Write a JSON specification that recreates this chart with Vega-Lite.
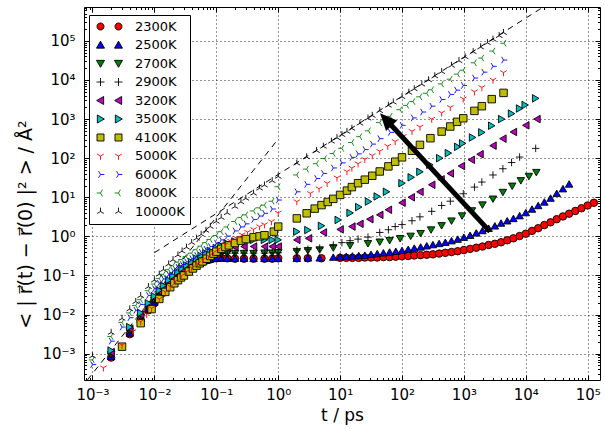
{
"$schema": "https://vega.github.io/schema/vega-lite/v6.json",
"width": 516, "height": 373,
"autosize": {"type": "none"},
"padding": {"left": 84, "top": 7, "right": 5, "bottom": 49},
"background": "white",
"config": {
  "font": "DejaVu Sans",
  "view": {"stroke": "black", "strokeWidth": 1},
  "axis": {"labelFont": "DejaVu Sans", "titleFont": "DejaVu Sans", "labelColor": "black", "titleColor": "black", "tickColor": "black", "domain": false, "titleFontWeight": "normal"},
  "legend": {"labelFont": "DejaVu Sans", "labelColor": "black"}
},
"data": {"values": [
{"T":"2300K","t":0.002,"y":0.000794},{"T":"2300K","t":0.004,"y":0.00316},{"T":"2300K","t":0.006,"y":0.00724},{"T":"2300K","t":0.008,"y":0.0129},{"T":"2300K","t":0.01,"y":0.0195},{"T":"2300K","t":0.012,"y":0.0275},{"T":"2300K","t":0.014,"y":0.0363},{"T":"2300K","t":0.017,"y":0.0501},{"T":"2300K","t":0.02,"y":0.0646},{"T":"2300K","t":0.024,"y":0.0851},{"T":"2300K","t":0.028,"y":0.105},{"T":"2300K","t":0.033,"y":0.129},{"T":"2300K","t":0.04,"y":0.158},{"T":"2300K","t":0.048,"y":0.186},{"T":"2300K","t":0.057,"y":0.214},{"T":"2300K","t":0.068,"y":0.24},{"T":"2300K","t":0.08,"y":0.257},{"T":"2300K","t":0.1,"y":0.275},{"T":"2300K","t":0.12,"y":0.282},{"T":"2300K","t":0.15,"y":0.275},{"T":"2300K","t":0.2,"y":0.269},{"T":"2300K","t":0.28,"y":0.269},{"T":"2300K","t":0.4,"y":0.269},{"T":"2300K","t":0.6,"y":0.269},{"T":"2300K","t":0.8,"y":0.269},{"T":"2300K","t":1,"y":0.275},
{"T":"2300K","t":2,"y":0.275},{"T":"2300K","t":3,"y":0.275},{"T":"2300K","t":5,"y":0.275},{"T":"2300K","t":10,"y":0.282},{"T":"2300K","t":12.6,"y":0.282},{"T":"2300K","t":15.8,"y":0.282},{"T":"2300K","t":20,"y":0.282},{"T":"2300K","t":25.1,"y":0.288},{"T":"2300K","t":31.6,"y":0.288},{"T":"2300K","t":39.8,"y":0.288},{"T":"2300K","t":50.1,"y":0.295},{"T":"2300K","t":63.1,"y":0.295},{"T":"2300K","t":79.4,"y":0.302},{"T":"2300K","t":100,"y":0.309},{"T":"2300K","t":126,"y":0.316},{"T":"2300K","t":158,"y":0.324},{"T":"2300K","t":200,"y":0.331},{"T":"2300K","t":251,"y":0.339},{"T":"2300K","t":316,"y":0.347},{"T":"2300K","t":398,"y":0.363},{"T":"2300K","t":501,"y":0.38},{"T":"2300K","t":631,"y":0.398},{"T":"2300K","t":794,"y":0.417},{"T":"2300K","t":1000,"y":0.447},{"T":"2300K","t":1259,"y":0.479},{"T":"2300K","t":1585,"y":0.513},{"T":"2300K","t":1995,"y":0.55},{"T":"2300K","t":2512,"y":0.603},{"T":"2300K","t":3162,"y":0.646},{"T":"2300K","t":3981,"y":0.708},{"T":"2300K","t":5012,"y":0.794},{"T":"2300K","t":6310,"y":0.891},{"T":"2300K","t":7943,"y":1.02},{"T":"2300K","t":10000,"y":1.17},{"T":"2300K","t":12590,"y":1.38},{"T":"2300K","t":15850,"y":1.62},{"T":"2300K","t":19950,"y":1.95},{"T":"2300K","t":25120,"y":2.29},{"T":"2300K","t":31620,"y":2.75},{"T":"2300K","t":39810,"y":3.24},{"T":"2300K","t":50120,"y":3.8},{"T":"2300K","t":63100,"y":4.47},{"T":"2300K","t":79430,"y":5.25},{"T":"2300K","t":100000,"y":6.17},{"T":"2300K","t":125900,"y":7.24},
{"T":"2500K","t":0.002,"y":0.000851},{"T":"2500K","t":0.004,"y":0.00339},{"T":"2500K","t":0.006,"y":0.00776},{"T":"2500K","t":0.008,"y":0.0138},{"T":"2500K","t":0.01,"y":0.0209},{"T":"2500K","t":0.012,"y":0.0295},{"T":"2500K","t":0.014,"y":0.0389},{"T":"2500K","t":0.017,"y":0.0537},{"T":"2500K","t":0.02,"y":0.0692},{"T":"2500K","t":0.024,"y":0.0891},{"T":"2500K","t":0.028,"y":0.11},{"T":"2500K","t":0.033,"y":0.135},{"T":"2500K","t":0.04,"y":0.162},{"T":"2500K","t":0.048,"y":0.191},{"T":"2500K","t":0.057,"y":0.219},{"T":"2500K","t":0.068,"y":0.245},{"T":"2500K","t":0.08,"y":0.263},{"T":"2500K","t":0.1,"y":0.275},{"T":"2500K","t":0.12,"y":0.282},{"T":"2500K","t":0.15,"y":0.275},{"T":"2500K","t":0.2,"y":0.275},{"T":"2500K","t":0.28,"y":0.275},{"T":"2500K","t":0.4,"y":0.275},{"T":"2500K","t":0.6,"y":0.275},{"T":"2500K","t":0.8,"y":0.275},{"T":"2500K","t":1,"y":0.275},
{"T":"2500K","t":2,"y":0.275},{"T":"2500K","t":3.02,"y":0.282},{"T":"2500K","t":4.68,"y":0.282},{"T":"2500K","t":7.76,"y":0.295},{"T":"2500K","t":10,"y":0.302},{"T":"2500K","t":12.6,"y":0.309},{"T":"2500K","t":15.8,"y":0.316},{"T":"2500K","t":20,"y":0.324},{"T":"2500K","t":25.1,"y":0.331},{"T":"2500K","t":31.6,"y":0.347},{"T":"2500K","t":39.8,"y":0.363},{"T":"2500K","t":50.1,"y":0.38},{"T":"2500K","t":63.1,"y":0.398},{"T":"2500K","t":79.4,"y":0.417},{"T":"2500K","t":100,"y":0.437},{"T":"2500K","t":126,"y":0.468},{"T":"2500K","t":158,"y":0.501},{"T":"2500K","t":200,"y":0.537},{"T":"2500K","t":251,"y":0.575},{"T":"2500K","t":316,"y":0.617},{"T":"2500K","t":398,"y":0.661},{"T":"2500K","t":501,"y":0.708},{"T":"2500K","t":631,"y":0.776},{"T":"2500K","t":794,"y":0.851},{"T":"2500K","t":1000,"y":0.955},{"T":"2500K","t":1259,"y":1.07},{"T":"2500K","t":1585,"y":1.23},{"T":"2500K","t":1995,"y":1.41},{"T":"2500K","t":2512,"y":1.62},{"T":"2500K","t":3162,"y":1.86},{"T":"2500K","t":3981,"y":2.19},{"T":"2500K","t":5012,"y":2.51},{"T":"2500K","t":6310,"y":2.88},{"T":"2500K","t":7943,"y":3.39},{"T":"2500K","t":10000,"y":4.07},{"T":"2500K","t":12590,"y":5.01},{"T":"2500K","t":15850,"y":6.17},{"T":"2500K","t":19950,"y":7.59},{"T":"2500K","t":25120,"y":9.55},{"T":"2500K","t":31620,"y":12.6},{"T":"2500K","t":39810,"y":16.6},{"T":"2500K","t":50120,"y":21.9},
{"T":"2700K","t":0.002,"y":0.000933},{"T":"2700K","t":0.004,"y":0.00372},{"T":"2700K","t":0.006,"y":0.00851},{"T":"2700K","t":0.008,"y":0.0151},{"T":"2700K","t":0.01,"y":0.0229},{"T":"2700K","t":0.012,"y":0.0324},{"T":"2700K","t":0.014,"y":0.0427},{"T":"2700K","t":0.017,"y":0.0589},{"T":"2700K","t":0.02,"y":0.0759},{"T":"2700K","t":0.024,"y":0.0977},{"T":"2700K","t":0.028,"y":0.12},{"T":"2700K","t":0.033,"y":0.148},{"T":"2700K","t":0.04,"y":0.182},{"T":"2700K","t":0.048,"y":0.219},{"T":"2700K","t":0.057,"y":0.257},{"T":"2700K","t":0.068,"y":0.295},{"T":"2700K","t":0.08,"y":0.324},{"T":"2700K","t":0.1,"y":0.347},{"T":"2700K","t":0.12,"y":0.355},{"T":"2700K","t":0.15,"y":0.363},{"T":"2700K","t":0.2,"y":0.363},{"T":"2700K","t":0.28,"y":0.363},{"T":"2700K","t":0.4,"y":0.363},{"T":"2700K","t":0.6,"y":0.372},{"T":"2700K","t":0.8,"y":0.372},{"T":"2700K","t":1,"y":0.38},
{"T":"2700K","t":2,"y":0.407},{"T":"2700K","t":3.02,"y":0.427},{"T":"2700K","t":4.68,"y":0.447},{"T":"2700K","t":7.76,"y":0.501},{"T":"2700K","t":14.5,"y":0.575},{"T":"2700K","t":28.2,"y":0.646},{"T":"2700K","t":43.7,"y":0.708},{"T":"2700K","t":63.1,"y":0.776},{"T":"2700K","t":93.3,"y":0.871},{"T":"2700K","t":138,"y":1.0},{"T":"2700K","t":200,"y":1.17},{"T":"2700K","t":295,"y":1.45},{"T":"2700K","t":437,"y":1.86},{"T":"2700K","t":631,"y":2.45},{"T":"2700K","t":933,"y":3.31},{"T":"2700K","t":1349,"y":4.47},{"T":"2700K","t":1995,"y":6.31},{"T":"2700K","t":2951,"y":8.91},{"T":"2700K","t":4266,"y":13.2},{"T":"2700K","t":6026,"y":19.1},{"T":"2700K","t":8318,"y":26.3},{"T":"2700K","t":11220,"y":33.9},{"T":"2700K","t":14790,"y":42.7},
{"T":"2900K","t":0.002,"y":0.001},{"T":"2900K","t":0.004,"y":0.00398},{"T":"2900K","t":0.006,"y":0.00912},{"T":"2900K","t":0.008,"y":0.0162},{"T":"2900K","t":0.01,"y":0.0245},{"T":"2900K","t":0.012,"y":0.0347},{"T":"2900K","t":0.014,"y":0.0457},{"T":"2900K","t":0.017,"y":0.0631},{"T":"2900K","t":0.02,"y":0.0813},{"T":"2900K","t":0.024,"y":0.105},{"T":"2900K","t":0.028,"y":0.129},{"T":"2900K","t":0.033,"y":0.158},{"T":"2900K","t":0.04,"y":0.191},{"T":"2900K","t":0.048,"y":0.224},{"T":"2900K","t":0.057,"y":0.263},{"T":"2900K","t":0.068,"y":0.302},{"T":"2900K","t":0.08,"y":0.331},{"T":"2900K","t":0.1,"y":0.355},{"T":"2900K","t":0.12,"y":0.363},{"T":"2900K","t":0.15,"y":0.372},{"T":"2900K","t":0.2,"y":0.372},{"T":"2900K","t":0.28,"y":0.372},{"T":"2900K","t":0.4,"y":0.372},{"T":"2900K","t":0.6,"y":0.372},{"T":"2900K","t":0.8,"y":0.38},{"T":"2900K","t":1,"y":0.38},
{"T":"2900K","t":2,"y":0.447},{"T":"2900K","t":3.02,"y":0.468},{"T":"2900K","t":4.68,"y":0.501},{"T":"2900K","t":7.76,"y":0.603},{"T":"2900K","t":10.7,"y":0.692},{"T":"2900K","t":14.5,"y":0.776},{"T":"2900K","t":19.5,"y":0.851},{"T":"2900K","t":28.2,"y":0.955},{"T":"2900K","t":43.7,"y":1.26},{"T":"2900K","t":60.3,"y":1.48},{"T":"2900K","t":77.6,"y":1.78},{"T":"2900K","t":100,"y":2.0},{"T":"2900K","t":145,"y":2.51},{"T":"2900K","t":195,"y":3.16},{"T":"2900K","t":302,"y":4.37},{"T":"2900K","t":437,"y":6.17},{"T":"2900K","t":603,"y":7.94},{"T":"2900K","t":977,"y":12.3},{"T":"2900K","t":1479,"y":18.2},{"T":"2900K","t":1950,"y":24.5},{"T":"2900K","t":2951,"y":37.2},{"T":"2900K","t":4266,"y":53.7},{"T":"2900K","t":5888,"y":77.6},{"T":"2900K","t":7943,"y":107},{"T":"2900K","t":14450,"y":178},
{"T":"3200K","t":0.002,"y":0.0011},{"T":"3200K","t":0.004,"y":0.00437},{"T":"3200K","t":0.006,"y":0.01},{"T":"3200K","t":0.008,"y":0.0178},{"T":"3200K","t":0.01,"y":0.0269},{"T":"3200K","t":0.012,"y":0.038},{"T":"3200K","t":0.014,"y":0.0501},{"T":"3200K","t":0.017,"y":0.0692},{"T":"3200K","t":0.02,"y":0.0891},{"T":"3200K","t":0.024,"y":0.115},{"T":"3200K","t":0.028,"y":0.141},{"T":"3200K","t":0.033,"y":0.17},{"T":"3200K","t":0.04,"y":0.204},{"T":"3200K","t":0.048,"y":0.245},{"T":"3200K","t":0.057,"y":0.288},{"T":"3200K","t":0.068,"y":0.331},{"T":"3200K","t":0.08,"y":0.372},{"T":"3200K","t":0.1,"y":0.417},{"T":"3200K","t":0.12,"y":0.457},{"T":"3200K","t":0.15,"y":0.501},{"T":"3200K","t":0.2,"y":0.537},{"T":"3200K","t":0.28,"y":0.55},{"T":"3200K","t":0.4,"y":0.55},{"T":"3200K","t":0.6,"y":0.55},{"T":"3200K","t":0.8,"y":0.55},{"T":"3200K","t":1,"y":0.55},
{"T":"3200K","t":2,"y":0.813},{"T":"3200K","t":3.09,"y":0.891},{"T":"3200K","t":5.37,"y":1.26},{"T":"3200K","t":10,"y":1.51},{"T":"3200K","t":15.5,"y":1.78},{"T":"3200K","t":20.9,"y":2.09},{"T":"3200K","t":30.2,"y":2.75},{"T":"3200K","t":43.7,"y":3.55},{"T":"3200K","t":60.3,"y":4.79},{"T":"3200K","t":100,"y":7.24},{"T":"3200K","t":141,"y":10},{"T":"3200K","t":195,"y":13.8},{"T":"3200K","t":302,"y":20.9},{"T":"3200K","t":427,"y":28.8},{"T":"3200K","t":603,"y":40.7},{"T":"3200K","t":912,"y":63.1},{"T":"3200K","t":1318,"y":91.2},{"T":"3200K","t":1820,"y":126},{"T":"3200K","t":2951,"y":209},{"T":"3200K","t":4266,"y":316},{"T":"3200K","t":6310,"y":468},{"T":"3200K","t":10000,"y":692},{"T":"3200K","t":15140,"y":1000},
{"T":"3500K","t":0.002,"y":0.0012},{"T":"3500K","t":0.004,"y":0.00479},{"T":"3500K","t":0.006,"y":0.011},{"T":"3500K","t":0.008,"y":0.0195},{"T":"3500K","t":0.01,"y":0.0295},{"T":"3500K","t":0.012,"y":0.0417},{"T":"3500K","t":0.014,"y":0.055},{"T":"3500K","t":0.017,"y":0.0759},{"T":"3500K","t":0.02,"y":0.0977},{"T":"3500K","t":0.024,"y":0.123},{"T":"3500K","t":0.028,"y":0.151},{"T":"3500K","t":0.033,"y":0.182},{"T":"3500K","t":0.04,"y":0.219},{"T":"3500K","t":0.048,"y":0.269},{"T":"3500K","t":0.057,"y":0.316},{"T":"3500K","t":0.068,"y":0.372},{"T":"3500K","t":0.08,"y":0.427},{"T":"3500K","t":0.1,"y":0.501},{"T":"3500K","t":0.12,"y":0.575},{"T":"3500K","t":0.15,"y":0.661},{"T":"3500K","t":0.2,"y":0.741},{"T":"3500K","t":0.28,"y":0.794},{"T":"3500K","t":0.4,"y":0.813},{"T":"3500K","t":0.6,"y":0.813},{"T":"3500K","t":0.8,"y":0.813},{"T":"3500K","t":1,"y":0.813},
{"T":"3500K","t":2,"y":1.32},{"T":"3500K","t":3.02,"y":1.45},{"T":"3500K","t":5.01,"y":1.86},{"T":"3500K","t":9.33,"y":2.63},{"T":"3500K","t":14.5,"y":3.98},{"T":"3500K","t":20,"y":5.62},{"T":"3500K","t":28.8,"y":7.76},{"T":"3500K","t":39.8,"y":10.5},{"T":"3500K","t":56.2,"y":13.8},{"T":"3500K","t":100,"y":22.9},{"T":"3500K","t":141,"y":32.4},{"T":"3500K","t":195,"y":44.7},{"T":"3500K","t":282,"y":67.6},{"T":"3500K","t":407,"y":100},{"T":"3500K","t":562,"y":135},{"T":"3500K","t":794,"y":195},{"T":"3500K","t":955,"y":240},{"T":"3500K","t":1380,"y":339},{"T":"3500K","t":1950,"y":457},{"T":"3500K","t":2818,"y":676},{"T":"3500K","t":4074,"y":1000},{"T":"3500K","t":5888,"y":1380},{"T":"3500K","t":7943,"y":1862},{"T":"3500K","t":9772,"y":2291},{"T":"3500K","t":14450,"y":3388},
{"T":"4100K","t":0.003,"y":0.00151},{"T":"4100K","t":0.006,"y":0.00603},{"T":"4100K","t":0.009,"y":0.0138},{"T":"4100K","t":0.012,"y":0.0251},{"T":"4100K","t":0.015,"y":0.038},{"T":"4100K","t":0.018,"y":0.0501},{"T":"4100K","t":0.021,"y":0.0631},{"T":"4100K","t":0.024,"y":0.0759},{"T":"4100K","t":0.027,"y":0.0891},{"T":"4100K","t":0.03,"y":0.1},{"T":"4100K","t":0.036,"y":0.126},{"T":"4100K","t":0.042,"y":0.151},{"T":"4100K","t":0.048,"y":0.178},{"T":"4100K","t":0.054,"y":0.204},{"T":"4100K","t":0.06,"y":0.229},{"T":"4100K","t":0.07,"y":0.269},{"T":"4100K","t":0.08,"y":0.316},{"T":"4100K","t":0.09,"y":0.363},{"T":"4100K","t":0.1,"y":0.407},{"T":"4100K","t":0.12,"y":0.479},{"T":"4100K","t":0.14,"y":0.537},{"T":"4100K","t":0.16,"y":0.589},{"T":"4100K","t":0.2,"y":0.676},{"T":"4100K","t":0.25,"y":0.776},{"T":"4100K","t":0.3,"y":0.851},{"T":"4100K","t":0.4,"y":0.955},{"T":"4100K","t":0.5,"y":1.0},{"T":"4100K","t":0.6,"y":1.07},{"T":"4100K","t":0.85,"y":1.32},{"T":"4100K","t":1,"y":1.78},
{"T":"4100K","t":2,"y":2.88},{"T":"4100K","t":2.88,"y":3.89},{"T":"4100K","t":3.89,"y":5.13},{"T":"4100K","t":5.01,"y":6.31},{"T":"4100K","t":6.31,"y":7.59},{"T":"4100K","t":7.76,"y":9.12},{"T":"4100K","t":10,"y":11.5},{"T":"4100K","t":12.9,"y":14.8},{"T":"4100K","t":15.5,"y":18.2},{"T":"4100K","t":19.5,"y":22.9},{"T":"4100K","t":25.1,"y":28.2},{"T":"4100K","t":33.1,"y":35.5},{"T":"4100K","t":43.7,"y":45.7},{"T":"4100K","t":60.3,"y":61.7},{"T":"4100K","t":77.6,"y":81.3},{"T":"4100K","t":100,"y":105},{"T":"4100K","t":145,"y":155},{"T":"4100K","t":195,"y":219},{"T":"4100K","t":288,"y":324},{"T":"4100K","t":437,"y":479},{"T":"4100K","t":603,"y":646},{"T":"4100K","t":776,"y":851},{"T":"4100K","t":977,"y":1047},{"T":"4100K","t":1479,"y":1622},{"T":"4100K","t":1950,"y":2138},{"T":"4100K","t":2818,"y":3236},{"T":"4100K","t":4365,"y":4677},
{"T":"5000K","t":0.0015,"y":0.000437},{"T":"5000K","t":0.003,"y":0.00166},{"T":"5000K","t":0.0045,"y":0.00372},{"T":"5000K","t":0.006,"y":0.00661},{"T":"5000K","t":0.0075,"y":0.0102},{"T":"5000K","t":0.009,"y":0.0145},{"T":"5000K","t":0.012,"y":0.0251},{"T":"5000K","t":0.015,"y":0.038},{"T":"5000K","t":0.018,"y":0.0525},{"T":"5000K","t":0.022,"y":0.0724},{"T":"5000K","t":0.027,"y":0.0977},{"T":"5000K","t":0.033,"y":0.126},{"T":"5000K","t":0.04,"y":0.158},{"T":"5000K","t":0.05,"y":0.204},{"T":"5000K","t":0.06,"y":0.251},{"T":"5000K","t":0.075,"y":0.316},{"T":"5000K","t":0.09,"y":0.389},{"T":"5000K","t":0.11,"y":0.479},{"T":"5000K","t":0.14,"y":0.617},{"T":"5000K","t":0.17,"y":0.759},{"T":"5000K","t":0.21,"y":0.912},{"T":"5000K","t":0.26,"y":1.1},{"T":"5000K","t":0.32,"y":1.29},{"T":"5000K","t":0.4,"y":1.51},{"T":"5000K","t":0.5,"y":1.78},{"T":"5000K","t":0.6,"y":2.0},{"T":"5000K","t":0.78,"y":2.4},{"T":"5000K","t":1,"y":3.98},
{"T":"5000K","t":2,"y":7.76},{"T":"5000K","t":3.31,"y":12.6},{"T":"5000K","t":4.57,"y":16.6},{"T":"5000K","t":6.17,"y":22.9},{"T":"5000K","t":8.91,"y":31.6},{"T":"5000K","t":12.9,"y":45.7},{"T":"5000K","t":15.5,"y":56.2},{"T":"5000K","t":19.5,"y":72.4},{"T":"5000K","t":25.1,"y":93.3},{"T":"5000K","t":33.1,"y":117},{"T":"5000K","t":43.7,"y":151},{"T":"5000K","t":58.9,"y":204},{"T":"5000K","t":77.6,"y":269},{"T":"5000K","t":105,"y":363},{"T":"5000K","t":145,"y":490},{"T":"5000K","t":195,"y":631},{"T":"5000K","t":302,"y":1000},{"T":"5000K","t":437,"y":1445},{"T":"5000K","t":603,"y":1995},{"T":"5000K","t":977,"y":3311},{"T":"5000K","t":1479,"y":5012},{"T":"5000K","t":1950,"y":6457},{"T":"5000K","t":2951,"y":10000},{"T":"5000K","t":4365,"y":15490},
{"T":"6000K","t":0.001,"y":0.000525},{"T":"6000K","t":0.002,"y":0.00209},{"T":"6000K","t":0.003,"y":0.00479},{"T":"6000K","t":0.004,"y":0.00832},{"T":"6000K","t":0.005,"y":0.0129},{"T":"6000K","t":0.006,"y":0.0182},{"T":"6000K","t":0.008,"y":0.0309},{"T":"6000K","t":0.01,"y":0.0457},{"T":"6000K","t":0.012,"y":0.0631},{"T":"6000K","t":0.014,"y":0.0813},{"T":"6000K","t":0.017,"y":0.107},{"T":"6000K","t":0.02,"y":0.132},{"T":"6000K","t":0.024,"y":0.162},{"T":"6000K","t":0.028,"y":0.191},{"T":"6000K","t":0.033,"y":0.224},{"T":"6000K","t":0.04,"y":0.269},{"T":"6000K","t":0.048,"y":0.324},{"T":"6000K","t":0.057,"y":0.389},{"T":"6000K","t":0.068,"y":0.468},{"T":"6000K","t":0.08,"y":0.55},{"T":"6000K","t":0.1,"y":0.676},{"T":"6000K","t":0.12,"y":0.813},{"T":"6000K","t":0.15,"y":1.02},{"T":"6000K","t":0.2,"y":1.38},{"T":"6000K","t":0.25,"y":1.74},{"T":"6000K","t":0.3,"y":2.09},{"T":"6000K","t":0.4,"y":2.69},{"T":"6000K","t":0.5,"y":3.31},{"T":"6000K","t":0.6,"y":3.89},{"T":"6000K","t":0.8,"y":5.01},{"T":"6000K","t":1,"y":8.51},
{"T":"6000K","t":2,"y":13.8},{"T":"6000K","t":2.88,"y":21.4},{"T":"6000K","t":4.17,"y":30.2},{"T":"6000K","t":5.37,"y":40.7},{"T":"6000K","t":7.76,"y":56.2},{"T":"6000K","t":10.7,"y":75.9},{"T":"6000K","t":15.5,"y":105},{"T":"6000K","t":19.5,"y":129},{"T":"6000K","t":25.1,"y":166},{"T":"6000K","t":33.1,"y":229},{"T":"6000K","t":43.7,"y":316},{"T":"6000K","t":64.6,"y":457},{"T":"6000K","t":100,"y":692},{"T":"6000K","t":151,"y":1072},{"T":"6000K","t":214,"y":1514},{"T":"6000K","t":302,"y":2138},{"T":"6000K","t":437,"y":3162},{"T":"6000K","t":603,"y":4266},{"T":"6000K","t":759,"y":5495},{"T":"6000K","t":977,"y":7244},{"T":"6000K","t":1479,"y":11220},{"T":"6000K","t":2089,"y":15850},{"T":"6000K","t":2951,"y":22390},{"T":"6000K","t":4365,"y":32360},
{"T":"8000K","t":0.001,"y":0.000692},{"T":"8000K","t":0.002,"y":0.00275},{"T":"8000K","t":0.003,"y":0.00631},{"T":"8000K","t":0.004,"y":0.011},{"T":"8000K","t":0.005,"y":0.017},{"T":"8000K","t":0.006,"y":0.024},{"T":"8000K","t":0.008,"y":0.0407},{"T":"8000K","t":0.01,"y":0.0603},{"T":"8000K","t":0.012,"y":0.0832},{"T":"8000K","t":0.014,"y":0.107},{"T":"8000K","t":0.017,"y":0.141},{"T":"8000K","t":0.02,"y":0.178},{"T":"8000K","t":0.024,"y":0.219},{"T":"8000K","t":0.028,"y":0.257},{"T":"8000K","t":0.033,"y":0.302},{"T":"8000K","t":0.04,"y":0.372},{"T":"8000K","t":0.048,"y":0.457},{"T":"8000K","t":0.057,"y":0.562},{"T":"8000K","t":0.068,"y":0.692},{"T":"8000K","t":0.08,"y":0.832},{"T":"8000K","t":0.1,"y":1.05},{"T":"8000K","t":0.12,"y":1.32},{"T":"8000K","t":0.15,"y":1.74},{"T":"8000K","t":0.2,"y":2.4},{"T":"8000K","t":0.25,"y":3.02},{"T":"8000K","t":0.3,"y":3.55},{"T":"8000K","t":0.4,"y":4.47},{"T":"8000K","t":0.5,"y":5.37},{"T":"8000K","t":0.6,"y":6.31},{"T":"8000K","t":0.8,"y":7.94},{"T":"8000K","t":1,"y":18.6},
{"T":"8000K","t":2,"y":37.2},{"T":"8000K","t":2.88,"y":52.5},{"T":"8000K","t":4.17,"y":72.4},{"T":"8000K","t":5.62,"y":97.7},{"T":"8000K","t":7.76,"y":132},{"T":"8000K","t":10.7,"y":178},{"T":"8000K","t":15.5,"y":251},{"T":"8000K","t":20.9,"y":355},{"T":"8000K","t":28.8,"y":501},{"T":"8000K","t":43.7,"y":813},{"T":"8000K","t":64.6,"y":1175},{"T":"8000K","t":93.3,"y":1738},{"T":"8000K","t":120,"y":2239},{"T":"8000K","t":151,"y":2818},{"T":"8000K","t":195,"y":3715},{"T":"8000K","t":251,"y":4571},{"T":"8000K","t":302,"y":5623},{"T":"8000K","t":437,"y":7943},{"T":"8000K","t":603,"y":10470},{"T":"8000K","t":794,"y":14130},{"T":"8000K","t":977,"y":17780},{"T":"8000K","t":1479,"y":27540},{"T":"8000K","t":1950,"y":36310},{"T":"8000K","t":2951,"y":54950},{"T":"8000K","t":4467,"y":87100},
{"T":"10000K","t":0.001,"y":0.000871},{"T":"10000K","t":0.002,"y":0.00347},{"T":"10000K","t":0.003,"y":0.00794},{"T":"10000K","t":0.004,"y":0.0138},{"T":"10000K","t":0.005,"y":0.0214},{"T":"10000K","t":0.006,"y":0.0302},{"T":"10000K","t":0.008,"y":0.0513},{"T":"10000K","t":0.01,"y":0.0759},{"T":"10000K","t":0.012,"y":0.107},{"T":"10000K","t":0.014,"y":0.141},{"T":"10000K","t":0.017,"y":0.195},{"T":"10000K","t":0.02,"y":0.251},{"T":"10000K","t":0.024,"y":0.331},{"T":"10000K","t":0.028,"y":0.417},{"T":"10000K","t":0.033,"y":0.525},{"T":"10000K","t":0.04,"y":0.692},{"T":"10000K","t":0.048,"y":0.891},{"T":"10000K","t":0.057,"y":1.12},{"T":"10000K","t":0.068,"y":1.41},{"T":"10000K","t":0.08,"y":1.78},{"T":"10000K","t":0.1,"y":2.4},{"T":"10000K","t":0.12,"y":3.02},{"T":"10000K","t":0.15,"y":3.98},{"T":"10000K","t":0.2,"y":5.75},{"T":"10000K","t":0.25,"y":7.59},{"T":"10000K","t":0.3,"y":9.33},{"T":"10000K","t":0.4,"y":12.6},{"T":"10000K","t":0.5,"y":17.0},{"T":"10000K","t":0.6,"y":20.4},{"T":"10000K","t":0.8,"y":26.3},{"T":"10000K","t":1,"y":33.9},
{"T":"10000K","t":2,"y":74.1},{"T":"10000K","t":2.88,"y":107},{"T":"10000K","t":4.17,"y":155},{"T":"10000K","t":5.37,"y":200},{"T":"10000K","t":7.24,"y":269},{"T":"10000K","t":8.91,"y":331},{"T":"10000K","t":10.7,"y":398},{"T":"10000K","t":12.9,"y":479},{"T":"10000K","t":15.5,"y":575},{"T":"10000K","t":20.9,"y":776},{"T":"10000K","t":28.2,"y":1047},{"T":"10000K","t":33.1,"y":1230},{"T":"10000K","t":43.7,"y":1622},{"T":"10000K","t":60.3,"y":2239},{"T":"10000K","t":72.4,"y":2692},{"T":"10000K","t":100,"y":3715},{"T":"10000K","t":129,"y":4786},{"T":"10000K","t":158,"y":5888},{"T":"10000K","t":209,"y":7762},{"T":"10000K","t":269,"y":10000},{"T":"10000K","t":339,"y":12590},{"T":"10000K","t":437,"y":16220},{"T":"10000K","t":631,"y":23440},{"T":"10000K","t":832,"y":30900},{"T":"10000K","t":1047,"y":38900},{"T":"10000K","t":1413,"y":52480},{"T":"10000K","t":1862,"y":69180},{"T":"10000K","t":2399,"y":89130},{"T":"10000K","t":2951,"y":109600},{"T":"10000K","t":3715,"y":134900},{"T":"10000K","t":4365,"y":162200}
]},
"layer": [
{
  "data": {"values": [
    {"line": "ballistic", "t": 0.00083, "y": 0.000213},
    {"line": "ballistic", "t": 1, "y": 309},
    {"line": "diffusive", "t": 0.01, "y": 0.383},
    {"line": "diffusive", "t": 18500, "y": 708550}
  ]},
  "mark": {"type": "line", "color": "black", "strokeWidth": 1, "strokeDash": [6, 5], "clip": true},
  "encoding": {
    "x": {"field": "t", "type": "quantitative", "scale": {"type": "log", "domain": [0.000729, 158000], "nice": false},
      "axis": {"orient": "top", "labels": false, "grid": false, "domain": false, "title": null,
        "values": [0.0008,0.0009,0.001,0.002,0.003,0.004,0.005,0.006,0.007,0.008,0.009,0.01,0.02,0.03,0.04,0.05,0.06,0.07,0.08,0.09,0.1,0.2,0.3,0.4,0.5,0.6,0.7,0.8,0.9,1,2,3,4,5,6,7,8,9,10,20,30,40,50,60,70,80,90,100,200,300,400,500,600,700,800,900,1000,2000,3000,4000,5000,6000,7000,8000,9000,10000,20000,30000,40000,50000,60000,70000,80000,90000,100000],
        "tickColor": "black", "tickWidth": 1,
        "tickSize": {"condition": {"test": "abs(log(datum.value)/LN10-round(log(datum.value)/LN10))<0.01", "value": -5}, "value": -2.5}}},
    "y": {"field": "y", "type": "quantitative", "scale": {"type": "log", "domain": [0.000212, 736000], "nice": false},
      "axis": {"orient": "right", "labels": false, "grid": false, "domain": false, "title": null,
        "values": [0.0003,0.0004,0.0005,0.0006,0.0007,0.0008,0.0009,0.001,0.002,0.003,0.004,0.005,0.006,0.007,0.008,0.009,0.01,0.02,0.03,0.04,0.05,0.06,0.07,0.08,0.09,0.1,0.2,0.3,0.4,0.5,0.6,0.7,0.8,0.9,1,2,3,4,5,6,7,8,9,10,20,30,40,50,60,70,80,90,100,200,300,400,500,600,700,800,900,1000,2000,3000,4000,5000,6000,7000,8000,9000,10000,20000,30000,40000,50000,60000,70000,80000,90000,100000,200000,300000,400000,500000,600000,700000],
        "tickColor": "black", "tickWidth": 1,
        "tickSize": {"condition": {"test": "abs(log(datum.value)/LN10-round(log(datum.value)/LN10))<0.01", "value": -5}, "value": -2.5}}},
    "detail": {"field": "line", "type": "nominal"}
  }
},
{
  "mark": {"type": "point", "opacity": 1, "strokeWidth": 0.9, "size": 56},
  "encoding": {
    "x": {"field": "t", "type": "quantitative", "scale": {"type": "log", "domain": [0.000729, 158000], "nice": false},
      "axis": {"orient": "bottom",
        "values": [0.0008,0.0009,0.001,0.002,0.003,0.004,0.005,0.006,0.007,0.008,0.009,0.01,0.02,0.03,0.04,0.05,0.06,0.07,0.08,0.09,0.1,0.2,0.3,0.4,0.5,0.6,0.7,0.8,0.9,1,2,3,4,5,6,7,8,9,10,20,30,40,50,60,70,80,90,100,200,300,400,500,600,700,800,900,1000,2000,3000,4000,5000,6000,7000,8000,9000,10000,20000,30000,40000,50000,60000,70000,80000,90000,100000],
        "labelExpr": "abs(log(datum.value)/LN10-round(log(datum.value)/LN10))<0.01 ? ['10⁻³','10⁻²','10⁻¹','10⁰','10¹','10²','10³','10⁴','10⁵'][round(log(datum.value)/LN10)+3] : ''",
        "labelFontSize": 15, "labelPadding": 12, "labelFlush": false, "labelOverlap": false,
        "tickColor": "black", "tickWidth": 1,
        "tickSize": {"condition": {"test": "abs(log(datum.value)/LN10-round(log(datum.value)/LN10))<0.01", "value": -5}, "value": -2.5},
        "grid": true, "gridColor": "black", "gridDash": [1, 3], "gridWidth": 1,
        "gridOpacity": {"condition": {"test": "abs(log(datum.value)/LN10-round(log(datum.value)/LN10))<0.01", "value": 0.85}, "value": 0},
        "title": "t / ps", "titleFontSize": 17, "titlePadding": 3}},
    "y": {"field": "y", "type": "quantitative", "scale": {"type": "log", "domain": [0.000212, 736000], "nice": false},
      "axis": {"orient": "left",
        "values": [0.0003,0.0004,0.0005,0.0006,0.0007,0.0008,0.0009,0.001,0.002,0.003,0.004,0.005,0.006,0.007,0.008,0.009,0.01,0.02,0.03,0.04,0.05,0.06,0.07,0.08,0.09,0.1,0.2,0.3,0.4,0.5,0.6,0.7,0.8,0.9,1,2,3,4,5,6,7,8,9,10,20,30,40,50,60,70,80,90,100,200,300,400,500,600,700,800,900,1000,2000,3000,4000,5000,6000,7000,8000,9000,10000,20000,30000,40000,50000,60000,70000,80000,90000,100000,200000,300000,400000,500000,600000,700000],
        "labelExpr": "abs(log(datum.value)/LN10-round(log(datum.value)/LN10))<0.01 ? ['10⁻³','10⁻²','10⁻¹','10⁰','10¹','10²','10³','10⁴','10⁵'][round(log(datum.value)/LN10)+3] : ''",
        "labelFontSize": 15, "labelPadding": 14, "labelFlush": false, "labelOverlap": false,
        "tickColor": "black", "tickWidth": 1,
        "tickSize": {"condition": {"test": "abs(log(datum.value)/LN10-round(log(datum.value)/LN10))<0.01", "value": -5}, "value": -2.5},
        "grid": true, "gridColor": "black", "gridDash": [1, 3], "gridWidth": 1,
        "gridOpacity": {"condition": {"test": "abs(log(datum.value)/LN10-round(log(datum.value)/LN10))<0.01", "value": 0.85}, "value": 0},
        "title": "<  | r⃗(t) − r⃗(0) |²  >  / Å²", "titleFontSize": 19, "titlePadding": 6, "titleY": 217}},
    "fill": {"field": "T", "type": "nominal", "legend": null, "scale": {"domain": ["2300K","2500K","2700K","2900K","3200K","3500K","4100K","5000K","6000K","8000K","10000K"], "range": ["#ff0000","#0000ff","#008000","transparent","#bf00bf","#00bfbf","#bfbf00","transparent","transparent","transparent","transparent"]}},
    "stroke": {"field": "T", "type": "nominal", "legend": null, "scale": {"domain": ["2300K","2500K","2700K","2900K","3200K","3500K","4100K","5000K","6000K","8000K","10000K"], "range": ["#000000","#000000","#000000","#000000","#000000","#000000","#000000","#ff0000","#0000ff","#008000","#000000"]}},
    "shape": {"field": "T", "type": "nominal", "legend": null, "scale": {"domain": ["2300K","2500K","2700K","2900K","3200K","3500K","4100K","5000K","6000K","8000K","10000K"], "range": ["circle","triangle-up","triangle-down","M-1,0L1,0M0,-1L0,1","triangle-left","triangle-right","square","M0,0L0,1M0,0L-0.87,-0.5M0,0L0.87,-0.5","M0,0L1,0M0,0L-0.5,-0.87M0,0L-0.5,0.87","M0,0L-1,0M0,0L0.5,-0.87M0,0L0.5,0.87","M0,0L0,-1M0,0L-0.87,0.5M0,0L0.87,0.5"]}}
  }
},
{
  "data": {"values": [{"t1": 2642, "y1": 1.32, "t2": 57, "y2": 916}]},
  "mark": {"type": "rule", "color": "black", "strokeWidth": 5},
  "encoding": {
    "x": {"field": "t1", "type": "quantitative", "scale": {"type": "log", "domain": [0.000729, 158000], "nice": false}, "axis": null},
    "y": {"field": "y1", "type": "quantitative", "scale": {"type": "log", "domain": [0.000212, 736000], "nice": false}, "axis": null},
    "x2": {"field": "t2"},
    "y2": {"field": "y2"}
  }
},
{
  "data": {"values": [{"t": 44.2, "y": 1406}]},
  "mark": {"type": "point", "shape": "M0,0L0.45,1L-0.45,1Z", "size": 1156, "angle": 317, "filled": true, "color": "black", "opacity": 1},
  "encoding": {
    "x": {"field": "t", "type": "quantitative", "scale": {"type": "log", "domain": [0.000729, 158000], "nice": false}, "axis": null},
    "y": {"field": "y", "type": "quantitative", "scale": {"type": "log", "domain": [0.000212, 736000], "nice": false}, "axis": null}
  }
},
{
  "transform": [{"filter": "false"}],
  "mark": {"type": "point", "opacity": 1, "strokeWidth": 0.9},
  "encoding": {
    "fill": {"field": "T", "type": "nominal", "scale": {"domain": ["2300K","2500K","2700K","2900K","3200K","3500K","4100K","5000K","6000K","8000K","10000K"], "range": ["#ff0000","#0000ff","#008000","transparent","#bf00bf","#00bfbf","#bfbf00","transparent","transparent","transparent","transparent"]},
      "legend": {"orient": "none", "legendX": 5, "legendY": 8, "title": null, "fillColor": "white", "strokeColor": "black", "padding": 5, "symbolSize": 49, "symbolStrokeWidth": 0.9, "labelFontSize": 13, "labelOffset": 28, "rowPadding": 4.5, "cornerRadius": 0}},
    "stroke": {"field": "T", "type": "nominal", "scale": {"domain": ["2300K","2500K","2700K","2900K","3200K","3500K","4100K","5000K","6000K","8000K","10000K"], "range": ["#000000","#000000","#000000","#000000","#000000","#000000","#000000","#ff0000","#0000ff","#008000","#000000"]},
      "legend": {"orient": "none", "legendX": 5, "legendY": 8, "title": null, "fillColor": "white", "strokeColor": "black", "padding": 5, "symbolSize": 49, "symbolStrokeWidth": 0.9, "labelFontSize": 13, "labelOffset": 28, "rowPadding": 4.5, "cornerRadius": 0}},
    "shape": {"field": "T", "type": "nominal", "scale": {"domain": ["2300K","2500K","2700K","2900K","3200K","3500K","4100K","5000K","6000K","8000K","10000K"], "range": [
      "M-1,0A1,1,0,1,0,1,0A1,1,0,1,0,-1,0ZM4.14,0A1,1,0,1,0,6.14,0A1,1,0,1,0,4.14,0Z",
      "M0,-1.1L1.15,0.9L-1.15,0.9ZM5.14,-1.1L6.29,0.9L3.99,0.9Z",
      "M0,1.1L1.15,-0.9L-1.15,-0.9ZM5.14,1.1L6.29,-0.9L3.99,-0.9Z",
      "M-1.15,0L1.15,0M0,-1.15L0,1.15M3.99,0L6.29,0M5.14,-1.15L5.14,1.15",
      "M-1.1,0L0.9,-1.15L0.9,1.15ZM4.04,0L6.04,-1.15L6.04,1.15Z",
      "M1.1,0L-0.9,-1.15L-0.9,1.15ZM6.24,0L4.24,-1.15L4.24,1.15Z",
      "M-1,-1L1,-1L1,1L-1,1ZM4.14,-1L6.14,-1L6.14,1L4.14,1Z",
      "M0,0L0,1.1M0,0L-0.95,-0.55M0,0L0.95,-0.55M5.14,0L5.14,1.1M5.14,0L4.19,-0.55M5.14,0L6.09,-0.55",
      "M0,0L1.1,0M0,0L-0.55,-0.95M0,0L-0.55,0.95M5.14,0L6.24,0M5.14,0L4.59,-0.95M5.14,0L4.59,0.95",
      "M0,0L-1.1,0M0,0L0.55,-0.95M0,0L0.55,0.95M5.14,0L4.04,0M5.14,0L5.69,-0.95M5.14,0L5.69,0.95",
      "M0,0L0,-1.1M0,0L-0.95,0.55M0,0L0.95,0.55M5.14,0L5.14,-1.1M5.14,0L4.19,0.55M5.14,0L6.09,0.55"]},
      "legend": {"orient": "none", "legendX": 5, "legendY": 8, "title": null, "fillColor": "white", "strokeColor": "black", "padding": 5, "symbolSize": 49, "symbolStrokeWidth": 0.9, "labelFontSize": 13, "labelOffset": 28, "rowPadding": 4.5, "cornerRadius": 0}}
  }
}
],
"resolve": {"scale": {"fill": "independent", "stroke": "independent", "shape": "independent"}, "axis": {"x": "independent", "y": "independent"}}
}
